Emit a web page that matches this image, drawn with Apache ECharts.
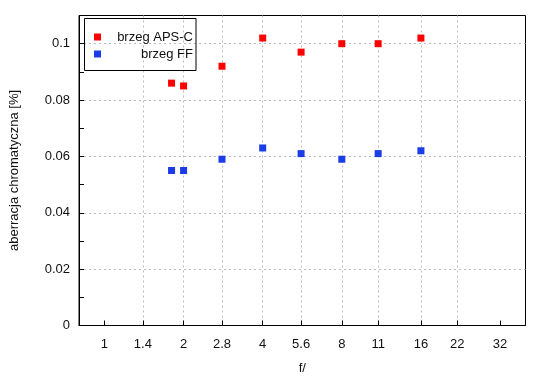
<!DOCTYPE html>
<html><head><meta charset="utf-8">
<script src="https://cdn.jsdelivr.net/npm/echarts@6/dist/echarts.min.js"></script>
<style>html,body{margin:0;padding:0;background:#fff}#c{width:550px;height:380px}</style>
</head><body><div id="c"></div>
<script>
var fStops = [1.8, 2, 2.8, 4, 5.6, 8, 11, 16];
var apsc = [0.086, 0.085, 0.092, 0.102, 0.097, 0.100, 0.100, 0.102];
var ff = [0.055, 0.055, 0.059, 0.063, 0.061, 0.059, 0.061, 0.062];
var xTicks = [1, 1.4, 2, 2.8, 4, 5.6, 8, 11, 16, 22, 32];
var seriesNames = ['brzeg APS-C', 'brzeg FF'];

function pairs(xs, ys){ return xs.map(function(x,i){ return [x, ys[i]]; }); }

var chart = echarts.init(document.getElementById('c'), null, {renderer:'canvas'});
var font = 'Liberation Sans, Arial, sans-serif';
var txt = '#111';
chart.setOption({
  animation: false,
  backgroundColor: '#fff',
  textStyle: {fontFamily: font},
  grid: {left: 77.5, right: 24.5, top: 15.5, bottom: 54.5, show: true, borderColor: '#000', borderWidth: 1, backgroundColor: 'transparent'},
  legend: {
    left: 84.5, top: 18.5, orient: 'vertical',
    data: seriesNames,
    icon: 'rect', itemWidth: 7, itemHeight: 7, itemGap: 4,
    borderColor: '#000', borderWidth: 1,
    padding: [12, 3, 10, 9.5],
    formatter: function(n){ return '{a|' + n + '}'; },
    textStyle: {fontFamily: font, fontSize: 13, color: txt, rich: {a: {width: 87, align: 'right', fontFamily: font, fontSize: 13, color: txt}}}
  },
  xAxis: {
    type: 'log', logBase: 2, min: 0.8, max: 40,
    name: 'f/', nameLocation: 'middle', nameGap: 36,
    nameTextStyle: {fontFamily: font, fontSize: 13, color: txt},
    axisLine: {lineStyle: {color: '#000', width: 1}},
    axisTick: {inside: true, length: 5, customValues: xTicks, lineStyle: {color: '#000'}},
    axisLabel: {customValues: xTicks, margin: 12, fontFamily: font, fontSize: 13, color: txt,
      formatter: function(v){ return String(v); }},
    splitLine: {show: true, showMinLine: false, showMaxLine: false, customValues: xTicks, lineStyle: {color: '#bbb', type: [2,3], width: 1}},
    minorTick: {show: false}
  },
  yAxis: {
    type: 'value', min: 0, max: 0.11, interval: 0.02,
    name: 'aberracja chromatyczna [%]', nameLocation: 'middle', nameGap: 58,
    nameTextStyle: {fontFamily: font, fontSize: 13, color: txt},
    axisLine: {show: true, lineStyle: {color: '#000', width: 1}},
    axisTick: {show: true, inside: true, length: 5, lineStyle: {color: '#000'}},
    minorTick: {show: true, splitNumber: 2, length: 5, lineStyle: {color: '#000'}},
    axisLabel: {margin: 9, showMaxLabel: false, fontFamily: font, fontSize: 13, color: txt},
    splitLine: {show: true, showMinLine: false, showMaxLine: false, lineStyle: {color: '#bbb', type: [2,3], width: 1}}
  },
  series: [
    {name: seriesNames[0], type: 'scatter', symbol: 'rect', symbolSize: 7, itemStyle: {color: '#ff0000', opacity: 1}, data: pairs(fStops, apsc)},
    {name: seriesNames[1], type: 'scatter', symbol: 'rect', symbolSize: 7, itemStyle: {color: '#1a3de8', opacity: 1}, data: pairs(fStops, ff)}
  ]
});
</script></body></html>
